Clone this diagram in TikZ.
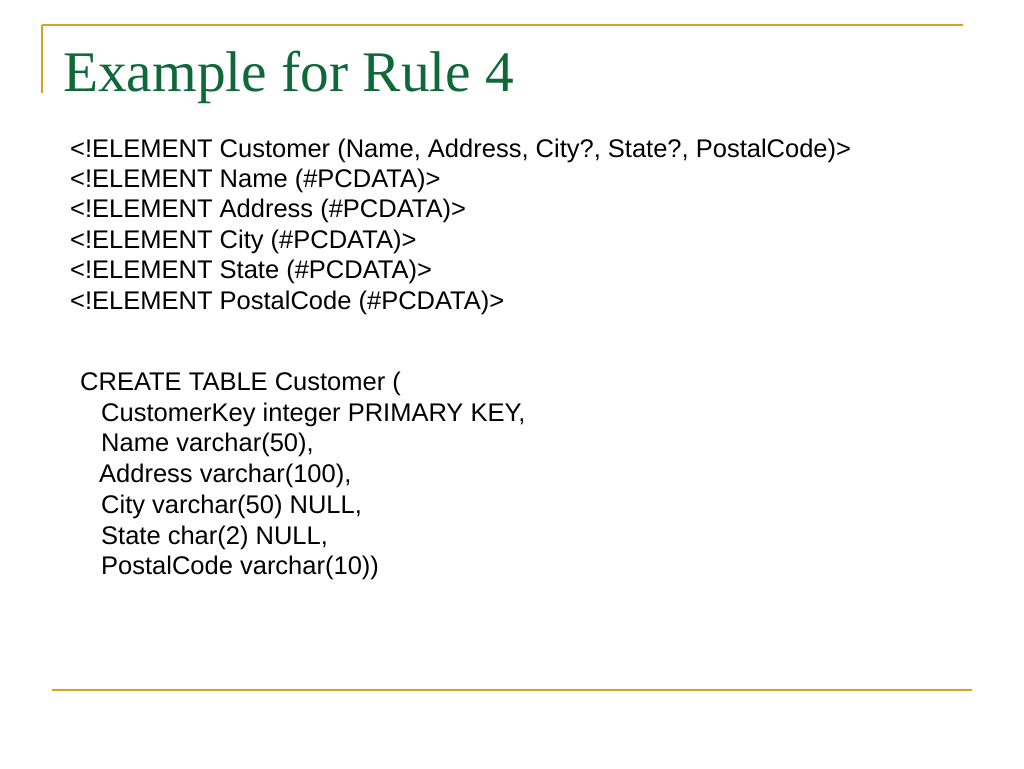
\documentclass[tikz,border=0pt]{standalone}
\usepackage{fontspec}
\setmainfont{Liberation Sans}
\newfontfamily\titlefont{Liberation Serif}
\definecolor{rulegold}{RGB}{214,162,36}
\definecolor{titlegreen}{RGB}{14,104,56}
\tikzset{
  rule/.style={draw=rulegold, line width=2.4pt},
  title/.style={anchor=base west, inner sep=0pt, text=titlegreen, font=\titlefont\fontsize{57.4}{60}\selectfont},
  body/.style={anchor=base west, inner sep=0pt, text=black, font=\fontsize{25.5}{30}\selectfont},
}
\begin{document}
\begin{tikzpicture}[x=1pt,y=-1pt]
\useasboundingbox (0,0) rectangle (1024,768);
\fill[white] (0,0) rectangle (1024,768);
% frame rules
\coordinate (tl) at (42,25);
\coordinate (tr) at (963,25);
\coordinate (vb) at (42,93);
\coordinate (bl) at (52,690);
\coordinate (br) at (972,690);
\draw[rule] (tl) -- (tr);
\draw[rule] (tl) -- (vb);
\draw[rule] (bl) -- (br);
% title
\node[title] (t) at (63,91) {Example for Rule 4};
% DTD
\node[body] (d1) at (70,157.0) {<!ELEMENT Customer (Name, Address, City?, State?, PostalCode)>};
\node[body] (d2) at (70,187.4) {<!ELEMENT Name (\#PCDATA)>};
\node[body] (d3) at (70,217.8) {<!ELEMENT Address (\#PCDATA)>};
\node[body] (d4) at (70,248.2) {<!ELEMENT City (\#PCDATA)>};
\node[body] (d5) at (70,278.6) {<!ELEMENT State (\#PCDATA)>};
\node[body] (d6) at (70,309.0) {<!ELEMENT PostalCode (\#PCDATA)>};
% SQL
\node[body] (s1) at (80,390.5) {CREATE TABLE Customer (};
\node[body] (s2) at (101,421.2) {CustomerKey integer PRIMARY KEY,};
\node[body] (s3) at (101,451.9) {Name varchar(50),};
\node[body] (s4) at (99,482.6) {Address varchar(100),};
\node[body] (s5) at (101,513.3) {City varchar(50) NULL,};
\node[body] (s6) at (101,544.0) {State char(2) NULL,};
\node[body] (s7) at (101,574.7) {PostalCode varchar(10))};
\end{tikzpicture}
\end{document}
